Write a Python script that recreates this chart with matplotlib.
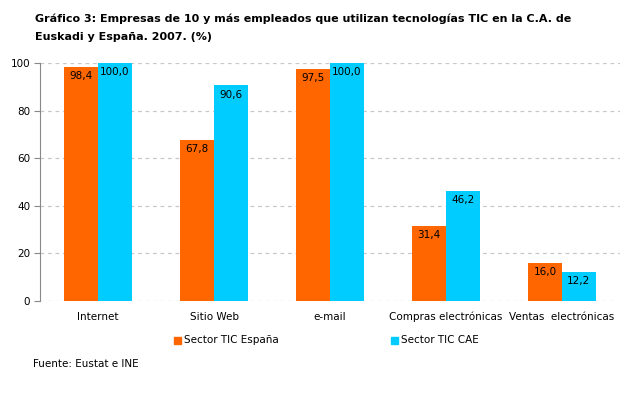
import matplotlib
matplotlib.use("Agg")
import matplotlib.pyplot as plt
import numpy as np

categories = ["Internet", "Sitio Web", "e-mail", "Compras electrónicas", "Ventas  electrónicas"]
espana = [98.4, 67.8, 97.5, 31.4, 16.0]
cae = [100.0, 90.6, 100.0, 46.2, 12.2]
series_names = ["Sector TIC España", "Sector TIC CAE"]
yticks = [0, 20, 40, 60, 80, 100]

c_es = "#FF6600"
c_cae = "#00CCFF"

W, H = 632, 394
fig = plt.figure(figsize=(W/100, H/100), dpi=100)
ax = fig.add_axes([40/W, 1-301/H, 580/W, 238/H])

x = np.arange(len(categories))
bw = 0.29
ax.bar(x - bw/2, espana, bw, color=c_es, zorder=3)
ax.bar(x + bw/2, cae, bw, color=c_cae, zorder=3)

def fmt(v):
    return f"{v:.1f}".replace(".", ",")

for xs, vals in ((x - bw/2, espana), (x + bw/2, cae)):
    for xi, v in zip(xs, vals):
        ax.annotate(fmt(v), (xi, v), xytext=(0, -3), textcoords="offset points",
                    ha="center", va="top", fontsize=7.5, zorder=4)

ax.set_xlim(-0.5, len(categories) - 0.5)
ax.set_ylim(0, 100)
ax.set_yticks(yticks)
ax.set_yticklabels([str(t) for t in yticks], fontsize=7.5)
ax.set_xticks(x)
ax.set_xticklabels([])
ax.tick_params(axis="x", length=0)
for xi, lab in zip(x, categories):
    ax.annotate(lab, (xi, 0), xycoords="data", xytext=(0, -19 * 0.72),
                textcoords="offset points", ha="center", va="baseline", fontsize=7.5)
ax.tick_params(axis="y", length=4, color="#888888", pad=3)
ax.yaxis.grid(True, linestyle=(0, (3, 3)), color="#C8C8C8", linewidth=0.9, zorder=0)
for s in ("top", "right", "bottom"):
    ax.spines[s].set_visible(False)
ax.spines["left"].set_color("#888888")

# legend
fig.patches.append(plt.Rectangle((174/W, 1-344/H), 7/W, 7/H, transform=fig.transFigure,
                                 color=c_es, figure=fig))
fig.text(184/W, 1-340/H, series_names[0], fontsize=7.5, va="center")
fig.patches.append(plt.Rectangle((391/W, 1-344/H), 7/W, 7/H, transform=fig.transFigure,
                                 color=c_cae, figure=fig))
fig.text(401/W, 1-340/H, series_names[1], fontsize=7.5, va="center")

fig.text(35/W, 1-22/H, "Gráfico 3: Empresas de 10 y más empleados que utilizan tecnologías TIC en la C.A. de",
         fontsize=8, fontweight="bold", va="baseline")
fig.text(35/W, 1-40/H, "Euskadi y España. 2007. (%)",
         fontsize=8, fontweight="bold", va="baseline")
fig.text(33/W, 1-364/H, "Fuente: Eustat e INE", fontsize=7.5, va="center")

fig.savefig("out.png", dpi=100)
